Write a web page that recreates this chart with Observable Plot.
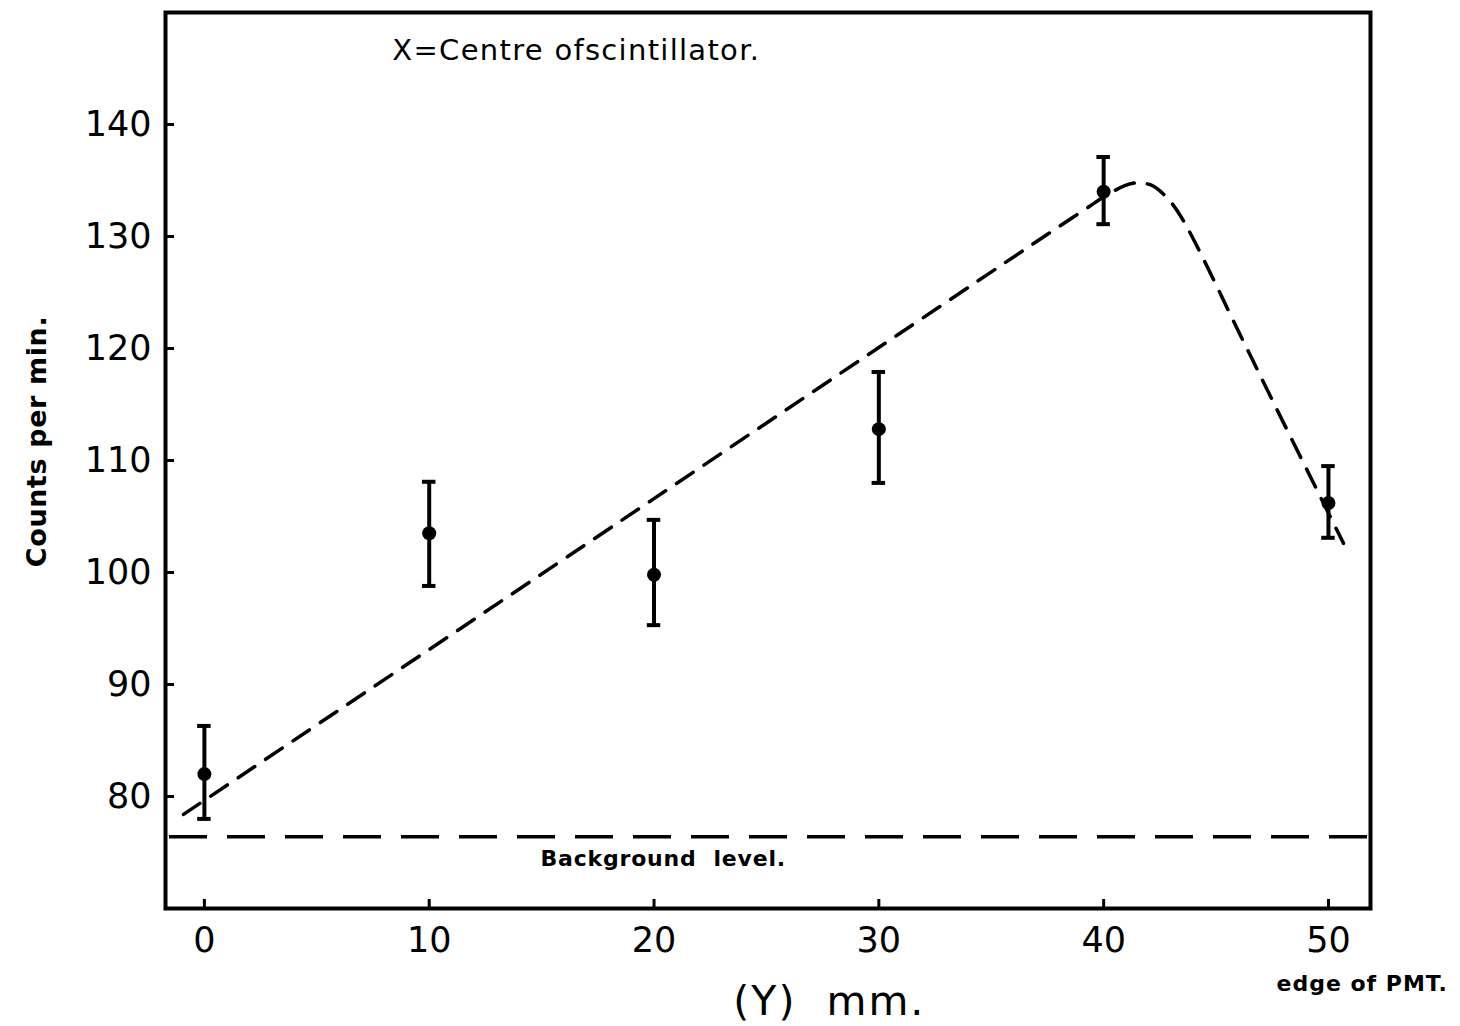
<!DOCTYPE html>
<html>
<head>
<meta charset="utf-8">
<script src="https://cdn.jsdelivr.net/npm/d3@7"></script>
<script src="https://cdn.jsdelivr.net/npm/@observablehq/plot@0.6"></script>
<style>
  html, body { margin: 0; padding: 0; background: #fff; }
  #chart svg { display: block; }
  g[aria-description="note-top"] text { letter-spacing: 1.3px; }
  g[aria-description="note-bg"] text { letter-spacing: 0.8px; }
  g[aria-description="note-pmt"] text { letter-spacing: 1px; }
  g[aria-description="xlabel"] text { letter-spacing: 2px; }
  g[aria-description="ylabel"] text { letter-spacing: 0.6px; }
</style>
</head>
<body>
<div id="chart"></div>
<script>
// Measured points (Y position in mm, counts per min)
const positions = [0, 10, 20, 30, 40, 50];
const counts    = [82.0, 103.5, 99.8, 112.8, 134.0, 106.2];
const errLow    = [78.0, 98.8, 95.3, 108.0, 131.1, 103.1];
const errHigh   = [86.3, 108.1, 104.7, 117.9, 137.1, 109.5];

// Hand-drawn dashed fit curve
const fitX = [-0.93, 20, 39.6, 40.3, 41.3, 42.1, 42.7, 43.4, 46.2, 47.5, 50.67];
const fitY = [78.4, 106.6, 133.0, 133.9, 134.75, 134.6, 133.7, 131.9, 120.7, 115.4, 102.6];

const backgroundLevel = 76.4;

const xTicks = [0, 10, 20, 30, 40, 50];
const yTicks = [80, 90, 100, 110, 120, 130, 140];

const points = positions.map((p, i) => ({x: p, y: counts[i], lo: errLow[i], hi: errHigh[i]}));
const fit = fitX.map((x, i) => ({x, y: fitY[i]}));

const W = 1460, H = 1026;
const mL = 165, mR = 90, mT = 12, mB = 118;
const plotW = W - mL - mR, plotH = H - mT - mB;
const font = "DejaVu Sans, sans-serif";

const chart = Plot.plot({
  width: W,
  height: H,
  marginLeft: mL,
  marginRight: mR,
  marginTop: mT,
  marginBottom: mB,
  style: {fontFamily: font, color: "#000", background: "#fff", overflow: "visible"},
  x: {domain: [-1.73, 51.87]},
  y: {domain: [70, 150]},
  marks: [
    // tick labels
    Plot.axisX({ticks: xTicks, tickSize: 0, tickPadding: 19, fontSize: 35, label: null, tickFormat: d => String(d)}),
    Plot.axisY({ticks: yTicks, tickSize: 0, tickPadding: 14, fontSize: 35, label: null, tickFormat: d => String(d)}),
    // inward ticks
    Plot.tickX(xTicks, {x: d => d, insetTop: plotH - 9, stroke: "#000", strokeWidth: 3}),
    Plot.tickY(yTicks, {y: d => d, insetRight: plotW - 9, stroke: "#000", strokeWidth: 3}),
    // background level
    Plot.ruleY([backgroundLevel], {stroke: "#000", strokeWidth: 3.5, strokeDasharray: "38,20", insetLeft: 4}),
    // fit curve
    Plot.line(fit, {x: "x", y: "y", curve: "catmull-rom", stroke: "#000", strokeWidth: 3.5, strokeDasharray: "20,13"}),
    // error bars
    Plot.ruleX(points, {x: "x", y1: "lo", y2: "hi", stroke: "#000", strokeWidth: 4}),
    Plot.ruleY(points, {y: "lo", x1: d => d.x - 0.3, x2: d => d.x + 0.3, stroke: "#000", strokeWidth: 4}),
    Plot.ruleY(points, {y: "hi", x1: d => d.x - 0.3, x2: d => d.x + 0.3, stroke: "#000", strokeWidth: 4}),
    Plot.dot(points, {x: "x", y: "y", r: 7, fill: "#000", stroke: "none"}),
    // annotations
    Plot.text(["X=Centre ofscintillator."], {x: 8.36, y: 146.6, text: d => d, textAnchor: "start", fontSize: 29, fill: "#000", ariaDescription: "note-top"}),
    Plot.text(["Background  level."], {x: 14.95, y: 74.4, text: d => d, textAnchor: "start", fontSize: 22, fontWeight: "bold", fill: "#000", ariaDescription: "note-bg"}),
    Plot.text(["edge of PMT."], {x: 51.5, y: 63.3, text: d => d, textAnchor: "middle", fontSize: 22, fontWeight: "bold", fill: "#000", ariaDescription: "note-pmt"}),
    Plot.text(["(Y)  mm."], {x: 27.8, y: 61.7, text: d => d, textAnchor: "middle", fontSize: 41, fill: "#000", ariaDescription: "xlabel"}),
    Plot.text(["Counts per min."], {x: -7.43, y: 111.7, text: d => d, rotate: -90, textAnchor: "middle", fontSize: 27, fontWeight: 600, fill: "#000", ariaDescription: "ylabel"}),
    // frame
    Plot.frame({stroke: "#000", strokeWidth: 4})
  ]
});

document.getElementById("chart").appendChild(chart);
</script>
</body>
</html>
